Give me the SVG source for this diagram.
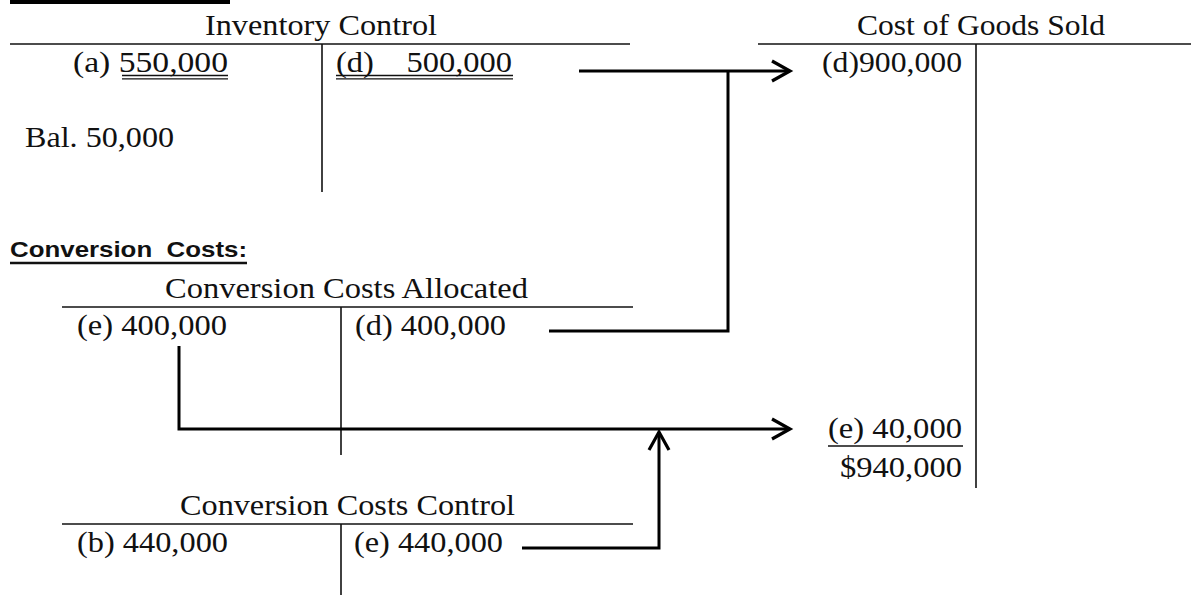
<svg xmlns="http://www.w3.org/2000/svg" width="1191" height="595" viewBox="0 0 1191 595">
<style>
.t{font-family:"Liberation Serif","Times New Roman",serif;font-size:29.5px;fill:#111;}
.h{font-family:"Liberation Sans",Arial,sans-serif;font-size:22.5px;font-weight:bold;fill:#111;}
.rule{stroke:#111;stroke-width:1.6;fill:none;}
.ul{stroke:#111;stroke-width:1.3;fill:none;}
.conn{stroke:#000;stroke-width:3;fill:none;}
</style>
<defs>
<marker id="arr" markerUnits="userSpaceOnUse" viewBox="0 0 24 24" markerWidth="24" markerHeight="24" refX="20" refY="12" orient="auto">
<path d="M2,2 L20,12 L2,22" fill="none" stroke="#000" stroke-width="3.2"/>
</marker>
</defs>
<rect x="10" y="0" width="220" height="4" fill="#000"/>
<g id="inventory-control">
<text class="t" x="205" y="35" textLength="232" lengthAdjust="spacingAndGlyphs">Inventory Control</text>
<line class="rule" x1="10" y1="44" x2="630" y2="44"/>
<line class="rule" x1="322" y1="44" x2="322" y2="192"/>
<text class="t" x="73" y="72" textLength="155" lengthAdjust="spacingAndGlyphs">(a) 550,000</text>
<line class="ul" x1="122" y1="75.5" x2="228" y2="75.5"/>
<line class="ul" x1="122" y1="78.8" x2="228" y2="78.8"/>
<text class="t" x="336" y="72" textLength="176" lengthAdjust="spacingAndGlyphs" xml:space="preserve">(d)    500,000</text>
<line class="ul" x1="336" y1="75.5" x2="513" y2="75.5"/>
<line class="ul" x1="336" y1="78.8" x2="513" y2="78.8"/>
<text class="t" x="25" y="147" textLength="149" lengthAdjust="spacingAndGlyphs">Bal. 50,000</text>
</g>
<g id="cost-of-goods-sold">
<text class="t" x="857" y="35" textLength="248" lengthAdjust="spacingAndGlyphs">Cost of Goods Sold</text>
<line class="rule" x1="758" y1="44" x2="1191" y2="44"/>
<line class="rule" x1="976" y1="44" x2="976" y2="488"/>
<text class="t" x="822" y="72" textLength="140" lengthAdjust="spacingAndGlyphs">(d)900,000</text>
<text class="t" x="828" y="438" textLength="134" lengthAdjust="spacingAndGlyphs">(e) 40,000</text>
<line class="ul" x1="828" y1="446" x2="963" y2="446" stroke-width="1.8"/>
<text class="t" x="840" y="477" textLength="122" lengthAdjust="spacingAndGlyphs">$940,000</text>
</g>
<g id="conversion-costs-heading">
<text class="h" x="10" y="257" textLength="237" lengthAdjust="spacingAndGlyphs" xml:space="preserve">Conversion  Costs:</text>
<line x1="10" y1="263" x2="247" y2="263" stroke="#111" stroke-width="2.4"/>
</g>
<g id="conversion-costs-allocated">
<text class="t" x="165" y="298" textLength="363" lengthAdjust="spacingAndGlyphs">Conversion Costs Allocated</text>
<line class="rule" x1="62" y1="307" x2="633" y2="307"/>
<line class="rule" x1="341" y1="307" x2="341" y2="455"/>
<text class="t" x="77" y="335" textLength="150" lengthAdjust="spacingAndGlyphs">(e) 400,000</text>
<text class="t" x="355" y="335" textLength="151" lengthAdjust="spacingAndGlyphs">(d) 400,000</text>
</g>
<g id="conversion-costs-control">
<text class="t" x="180" y="515" textLength="335" lengthAdjust="spacingAndGlyphs">Conversion Costs Control</text>
<line class="rule" x1="62" y1="524" x2="633" y2="524"/>
<line class="rule" x1="341" y1="524" x2="341" y2="595"/>
<text class="t" x="77" y="552" textLength="151" lengthAdjust="spacingAndGlyphs">(b) 440,000</text>
<text class="t" x="354" y="552" textLength="149" lengthAdjust="spacingAndGlyphs">(e) 440,000</text>
</g>
<g id="connectors">
<path class="conn" d="M579,71 H790" marker-end="url(#arr)"/>
<path class="conn" d="M549,331 H728 V71"/>
<path class="conn" d="M179,346 V429 H790" marker-end="url(#arr)"/>
<path class="conn" d="M522,548 H659 V432" marker-end="url(#arr)"/>
</g>
</svg>
